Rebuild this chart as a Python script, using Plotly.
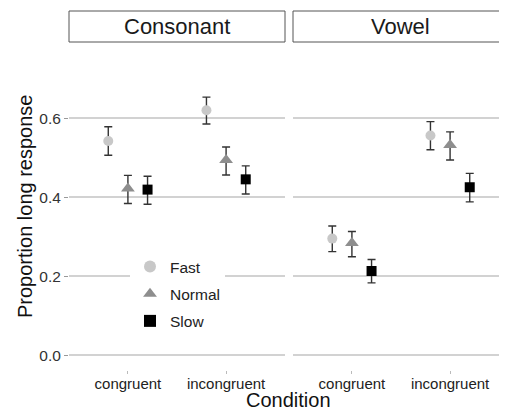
import plotly.graph_objects as go

# ---- data ----
panels = ["Consonant", "Vowel"]
categories = ["congruent", "incongruent"]
speeds = ["Fast", "Normal", "Slow"]

# order: Consonant-congruent, Consonant-incongruent, Vowel-congruent, Vowel-incongruent
fast_mean = [0.542, 0.620, 0.295, 0.556]
fast_lo = [0.506, 0.585, 0.262, 0.520]
fast_hi = [0.578, 0.653, 0.327, 0.591]

normal_mean = [0.422, 0.494, 0.284, 0.532]
normal_lo = [0.384, 0.456, 0.249, 0.494]
normal_hi = [0.455, 0.527, 0.313, 0.565]

slow_mean = [0.419, 0.445, 0.213, 0.425]
slow_lo = [0.382, 0.408, 0.183, 0.388]
slow_hi = [0.453, 0.479, 0.242, 0.460]

y_ticks = [0.0, 0.2, 0.4, 0.6]
y_tick_labels = ["0.0", "0.2", "0.4", "0.6"]

# ---- styling ----
OFF = 8  # default page body margin
W, H = 507 - OFF, 412 - OFF
FONT = "Liberation Sans, Arial, Helvetica, sans-serif"


def fx(x):
    return (x - OFF) / W


def fy(y):
    return 1 - (y - OFF) / H


series = {
    "Fast": (fast_mean, fast_lo, fast_hi, "circle", "#c8c8c8", 10),
    "Normal": (normal_mean, normal_lo, normal_hi, "triangle-up", "#8e8e8e", 12),
    "Slow": (slow_mean, slow_lo, slow_hi, "square", "#000000", 10),
}
dodge = {"Fast": -0.2, "Normal": 0.0, "Slow": 0.2}

# panel pixel geometry (window coordinates)
px1 = (69, 285)
px2 = (293, 507)
py = (44, 370)  # top, bottom
unit = (px1[1] - px1[0]) / 2.2

fig = go.Figure()

for p, panel in enumerate(panels):
    xa = "x" if p == 0 else "x2"
    ya = "y" if p == 0 else "y2"
    for s in speeds:
        mean, lo, hi, sym, col, size = series[s]
        m = mean[2 * p:2 * p + 2]
        l = lo[2 * p:2 * p + 2]
        h = hi[2 * p:2 * p + 2]
        xs = [i + 1 + dodge[s] for i in range(len(categories))]
        fig.add_trace(go.Scatter(
            x=xs, y=m, mode="markers", name=s,
            legendgroup=s, showlegend=(p == 0),
            marker=dict(symbol=sym, color=col, size=size, line=dict(width=0)),
            error_y=dict(type="data", symmetric=False,
                         array=[hh - mm for hh, mm in zip(h, m)],
                         arrayminus=[mm - ll for mm, ll in zip(m, l)],
                         color="#333333", thickness=1.4, width=4),
            xaxis=xa, yaxis=ya,
        ))

yr = [-0.0375, 0.7875]
grid = dict(showgrid=True, gridcolor="#d2d2d2", gridwidth=1.5, zeroline=False)
xdom2_end = min(1.0, fx(px2[1]))

xtick_common = dict(tickvals=[1, 2], ticktext=categories, showgrid=False,
                    zeroline=False, showline=False, ticks="outside", ticklen=3,
                    tickcolor="#bbbbbb", ticklabelstandoff=-3,
                    tickfont=dict(size=15, color="#222222"))

fig.update_layout(
    width=W, height=H,
    margin=dict(l=0, r=0, t=0, b=0),
    paper_bgcolor="white", plot_bgcolor="white",
    font=dict(family=FONT, size=15, color="#333333"),
    showlegend=True,
    legend=dict(x=fx(130), y=fy(250), xanchor="left", yanchor="top",
                bgcolor="white", borderwidth=0, tracegroupgap=4,
                font=dict(size=15.5, color="#222222"), itemsizing="constant"),
    xaxis=dict(domain=[fx(px1[0]), fx(px1[1])], range=[0.4, 2.6],
               anchor="y", **xtick_common),
    xaxis2=dict(domain=[fx(px2[0]), xdom2_end],
                range=[0.4, 0.4 + (xdom2_end * W + OFF - px2[0]) / unit],
                anchor="y2", **xtick_common),
    yaxis=dict(domain=[fy(py[1]), fy(py[0])], range=yr,
               tickvals=y_ticks, ticktext=y_tick_labels,
               ticks="outside", ticklen=4, tickcolor="#999999",
               tickfont=dict(size=15.5, color="#333333"), anchor="x", **grid),
    yaxis2=dict(domain=[fy(py[1]), fy(py[0])], range=yr,
                tickvals=y_ticks, showticklabels=False, ticks="",
                anchor="x2", **grid),
)

# strip boxes
shapes = []
annotations = []
for (x0, x1), name, cx in zip([px1, (px2[0], px2[1] + 4)], panels,
                              [(px1[0] + px1[1]) / 2, (px2[0] + px2[1]) / 2]):
    shapes.append(dict(type="rect", xref="paper", yref="paper",
                       x0=fx(x0), x1=fx(x1), y0=fy(42), y1=fy(11),
                       line=dict(color="#555555", width=1), fillcolor="white"))
    annotations.append(dict(text=name, xref="paper", yref="paper",
                            x=fx(cx), y=fy(26.5),
                            xanchor="center", yanchor="middle", showarrow=False,
                            font=dict(size=22, color="#1a1a1a", family=FONT)))

annotations.append(dict(text="Condition", xref="paper", yref="paper",
                        x=fx(288), y=fy(399.5), xanchor="center", yanchor="middle",
                        showarrow=False, font=dict(size=20, color="#111111", family=FONT)))
annotations.append(dict(text="Proportion long response", xref="paper", yref="paper",
                        x=fx(25), y=fy(207), xanchor="center", yanchor="middle",
                        textangle=-90, showarrow=False,
                        font=dict(size=20, color="#111111", family=FONT)))

fig.update_layout(shapes=shapes, annotations=annotations)

fig.write_html("out.html")
